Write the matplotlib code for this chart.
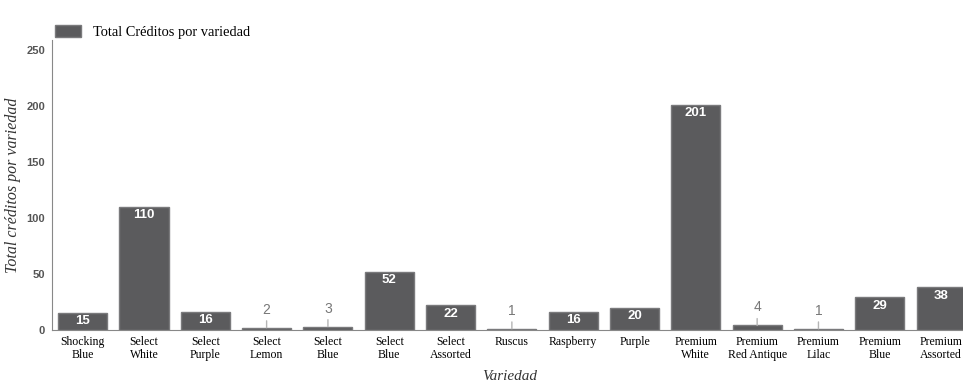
import matplotlib.pyplot as plt

# Créditos por variedad
variedades = ["Shocking\nBlue", "Select\nWhite", "Select\nPurple", "Select\nLemon", "Select\nBlue",
              "Select\nBlue", "Select\nAssorted", "Ruscus", "Raspberry", "Purple",
              "Premium\nWhite", "Premium\nRed Antique", "Premium\nLilac", "Premium\nBlue", "Premium\nAssorted"]
creditos = [15, 110, 16, 2, 3, 52, 22, 1, 16, 20, 201, 4, 1, 29, 38]
yticks = [0, 50, 100, 150, 200, 250]

serif = "Liberation Serif"
sans = "Liberation Sans"
bar_color = "#5b5b5d"

fig = plt.figure(figsize=(9.63, 3.81), dpi=100)
ax = fig.add_axes([0.054, 0.134, 0.95, 0.761])

x = range(len(variedades))
bars = ax.bar(x, creditos, width=0.8, color=bar_color, edgecolor="#7a7a7c", linewidth=1,
              label="Total Créditos por variedad")

for rect, v in zip(bars, creditos):
    cx = rect.get_x() + rect.get_width() / 2
    if v >= 10:
        ax.annotate(str(v), (cx, v), xytext=(0, -6), textcoords="offset points",
                    ha="center", va="center", color="white", fontsize=9.5, fontweight="bold",
                    family=sans)
    else:
        ax.annotate(str(v), (cx, v), xytext=(0, 13), textcoords="offset points",
                    ha="center", va="center", color="#777777", fontsize=10,
                    family=sans,
                    arrowprops=dict(arrowstyle="-", color="#b5b5b5", lw=1,
                                    shrinkA=1, shrinkB=0))

ax.set_xlim(-0.5, 14.42)
ax.set_ylim(0, 259)
ax.set_yticks(yticks)
ax.set_xticks(list(x))
ax.set_xticklabels(variedades, family=serif, fontsize=8.5, linespacing=1.2)
for lbl in ax.get_yticklabels():
    lbl.set_family(sans)
    lbl.set_fontsize(8)
    lbl.set_fontweight("bold")
    lbl.set_color("#555555")
ax.tick_params(axis="both", length=0, pad=4)
ax.tick_params(axis="y", pad=5)

for side in ["top", "right"]:
    ax.spines[side].set_visible(False)
ax.spines["left"].set_color("#888888")
ax.spines["bottom"].set_color("#888888")

ax.set_ylabel("Total créditos por variedad", family=serif, style="italic", fontsize=11.5,
              color="#333333", labelpad=4)
ax.set_xlabel("Variedad", family=serif, style="italic", fontsize=11, color="#333333",
              labelpad=6)

ax.legend(loc="lower left", bbox_to_anchor=(-0.003, 0.985), frameon=False,
          prop={"family": serif, "size": 10.4}, handlelength=1.8, handleheight=0.9,
          handletextpad=0.8, borderaxespad=0)

fig.savefig("out.png", dpi=100, facecolor="white")
